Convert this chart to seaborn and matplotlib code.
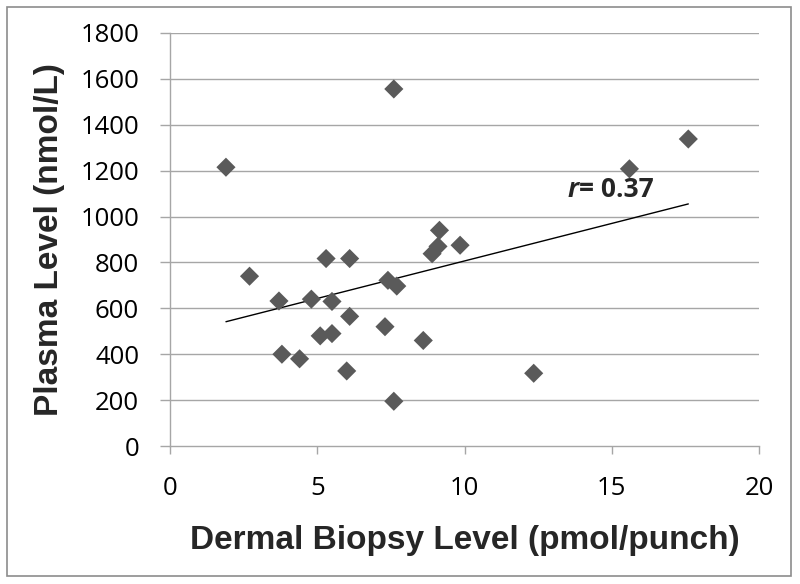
import numpy as np
import pandas as pd
import matplotlib
matplotlib.use("Agg")
import matplotlib.pyplot as plt
import seaborn as sns
from matplotlib.patches import Rectangle

# Data
dermal = [1.9, 2.7, 3.7, 3.8, 4.4, 4.8, 5.1, 5.3, 5.5, 5.5, 6.0, 6.1, 6.1,
          7.3, 7.4, 7.7, 7.6, 7.6, 8.6, 8.9, 9.1, 9.15, 9.85, 12.35, 15.6, 17.6]
plasma = [1215, 740, 632, 400, 380, 640, 480, 817, 490, 630, 327, 565, 817,
          520, 722, 697, 1556, 195, 460, 838, 870, 940, 875, 317, 1208, 1338]
x_ticks = [0, 5, 10, 15, 20]
y_ticks = [0, 200, 400, 600, 800, 1000, 1200, 1400, 1600, 1800]
x_label = "Dermal Biopsy Level (pmol/punch)"
y_label = "Plasma Level (nmol/L)"
r_text = ("r", "= 0.37")

df = pd.DataFrame({"dermal": dermal, "plasma": plasma})

sns.set_theme(style="white")
plt.rcParams["font.family"] = ["Open Sans", "DejaVu Sans"]

fig = plt.figure(figsize=(8, 5.84), dpi=100)
ax = fig.add_axes([170 / 800, 1 - 446 / 584, (759 - 170) / 800, (446 - 33) / 584])

grid_c = "#a6a6a6"
for yt in y_ticks[1:]:
    ax.axhline(yt, color=grid_c, lw=1.0, zorder=0)

sns.regplot(data=df, x="dermal", y="plasma", ax=ax, ci=None, truncate=True,
            marker="D",
            scatter_kws=dict(s=95, color="#5a5a5a", edgecolors="none", alpha=1, zorder=3),
            line_kws=dict(color="black", lw=1.0, zorder=2))

ax.set_xlim(0, 20)
ax.set_ylim(0, 1800)
ax.set_xticks(x_ticks)
ax.set_yticks(y_ticks)
ax.set_xticklabels([str(t) for t in x_ticks], fontsize=18.5, color="black")
ax.set_yticklabels([str(t) for t in y_ticks], fontsize=18.5, color="black")

for s in ["top", "right"]:
    ax.spines[s].set_visible(False)
for s in ["left", "bottom"]:
    ax.spines[s].set_color(grid_c)
    ax.spines[s].set_linewidth(1.0)

ax.tick_params(axis="x", direction="out", length=5.8, width=1, color=grid_c, pad=16, bottom=True)
ax.tick_params(axis="y", direction="out", length=7.2, width=1, color=grid_c, pad=15, left=True)

ax.set_xlabel(x_label, fontsize=24, fontweight="bold", family="Liberation Sans", labelpad=17)
ax.set_ylabel(y_label, fontsize=24, fontweight="bold", family="Liberation Sans", labelpad=11)

t1 = ax.text(13.5, 1118, r_text[0], fontsize=19, fontweight="bold", fontstyle="italic",
             va="center", ha="left")
ax.annotate(r_text[1], xy=(1, 0), xycoords=t1, va="bottom", ha="left",
            fontsize=19, fontweight="bold")

fig.patches.append(Rectangle((7 / 800, 1 - 576 / 584), 784 / 800, 569 / 584,
                             transform=fig.transFigure, fill=False,
                             edgecolor="#8c8c8c", lw=1.2))

fig.savefig("out.png", dpi=100)
